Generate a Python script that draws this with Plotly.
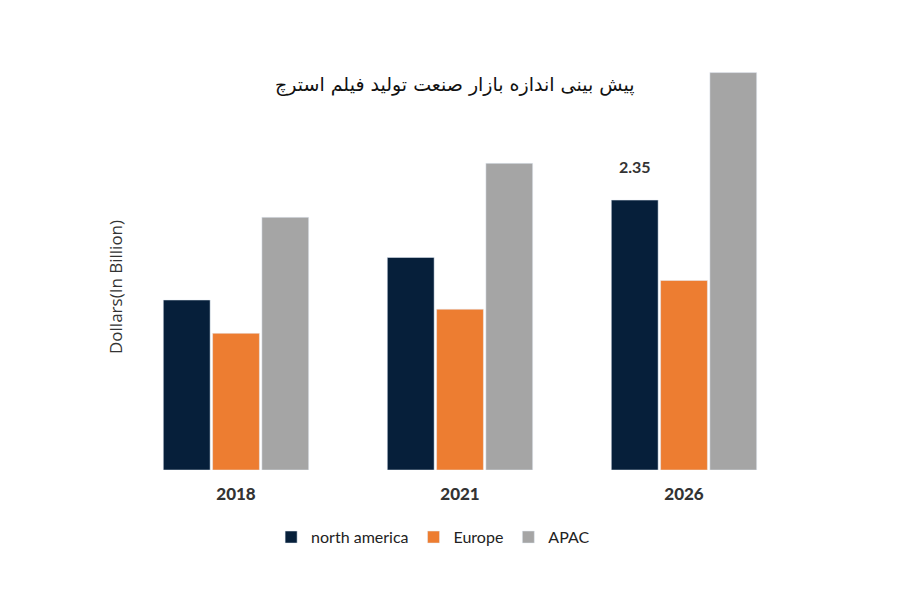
import plotly.graph_objects as go

# data (billion dollars)
years = ["2018", "2021", "2026"]
north_america = [1.48, 1.85, 2.35]
europe = [1.19, 1.40, 1.65]
apac = [2.20, 2.67, 3.46]
na_labels = ["", "", "<b>2.35</b><br> "]

colors = {"north america": "#061f3a", "Europe": "#ed7d31", "APAC": "#a5a5a5"}

fig = go.Figure()
fig.add_trace(go.Bar(x=years, y=north_america, name="north america",
                     marker_color=colors["north america"],
                     text=na_labels, textposition="outside", cliponaxis=False,
                     textfont=dict(size=16, family="Lato, sans-serif", color="#333333")))
fig.add_trace(go.Bar(x=years, y=europe, name="Europe", marker_color=colors["Europe"]))
fig.add_trace(go.Bar(x=years, y=apac, name="APAC", marker_color=colors["APAC"]))

fig.update_layout(
    width=900, height=600,
    paper_bgcolor="white", plot_bgcolor="white",
    margin=dict(l=116, r=112, t=60, b=138),
    barmode="group", bargap=0.34, bargroupgap=0.05,
    font=dict(family="Lato, DejaVu Sans, sans-serif", color="#333333"),
    showlegend=True,
    legend=dict(orientation="h", x=0.46, xanchor="center", y=-0.167, yanchor="middle",
                font=dict(size=16, color="#222222"), itemwidth=30),
    xaxis=dict(type="category", showline=False, showgrid=False, ticks="",
               ticklabelstandoff=12,
               tickfont=dict(size=17, family="Lato Black, Lato, sans-serif", color="#333333")),
    yaxis=dict(range=[0, 3.5], showgrid=False, zeroline=False, showticklabels=False, ticks=""),
)

# chart title (Persian)
fig.add_annotation(text="پیش بینی اندازه بازار صنعت تولید فیلم استرچ",
                   xref="paper", yref="paper", x=(455 - 124) / 672, y=(462 - 77) / 402,
                   xanchor="center", yanchor="middle",
                   showarrow=False, font=dict(size=19, family="DejaVu Sans", color="#111111"))

# y axis title
fig.add_annotation(text="Dollars(In Billion)", textangle=-90,
                   xref="paper", yref="paper", x=(115 - 124) / 672, y=(462 - 279) / 402,
                   xanchor="center", yanchor="middle",
                   showarrow=False, font=dict(size=17, family="Open Sans", color="#333333"))

fig.write_html("out.html")
